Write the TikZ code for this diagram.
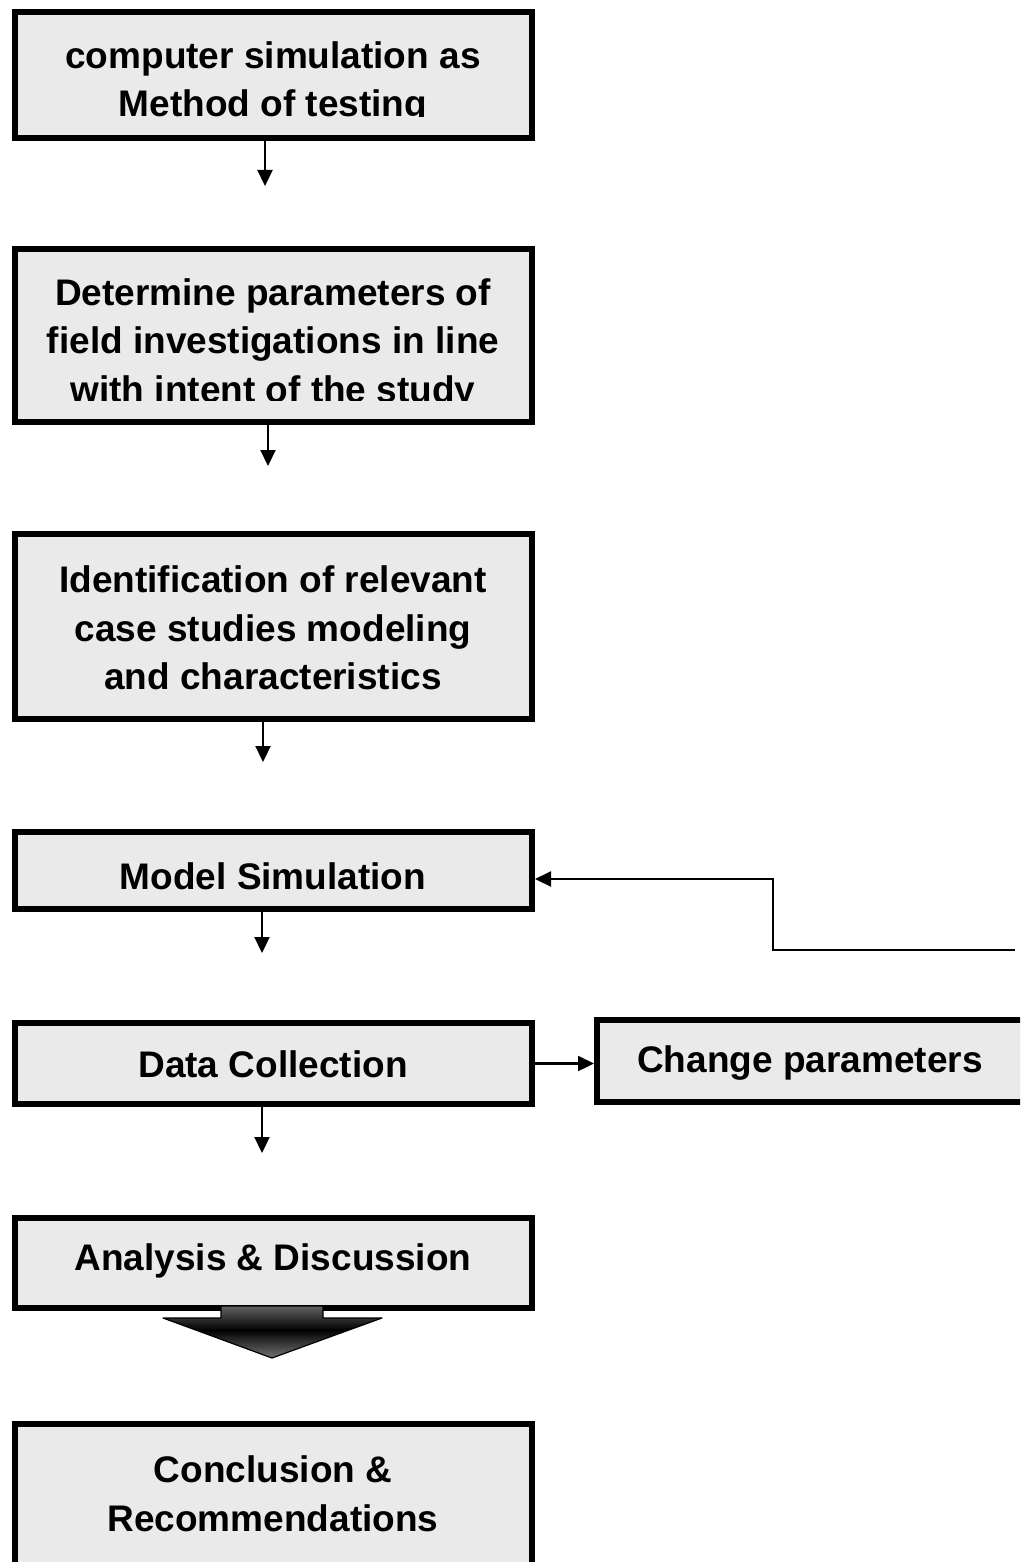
\documentclass[tikz,border=0pt]{standalone}
\usepackage{fontspec}
\setmainfont{Liberation Sans}
\usetikzlibrary{arrows.meta}
\definecolor{boxfill}{HTML}{EAEAEA}
\begin{document}
\begin{tikzpicture}[x=1pt,y=-1pt,
  box/.style={draw=black,line width=6pt,fill=boxfill,rectangle,inner sep=0pt,minimum width=517pt},
  lbl/.style={font=\bfseries\fontsize{37}{48.5}\selectfont,align=center,inner sep=0pt},
  conn/.style={line width=2.2pt,-{Triangle[width=15pt,length=16pt]}},
  cover/.style={fill=boxfill,draw=none}]
\clip (0,0) rectangle (1020,1562);
\fill[white] (0,0) rectangle (1020,1562);
% boxes
\node[box,minimum height=126pt] (b1) at (273.5,75) {};
\node[box,minimum height=173pt] (b2) at (273.5,335.5) {};
\node[box,minimum height=185pt] (b3) at (273.5,626.5) {};
\node[box,minimum height=77pt]  (b4) at (273.5,870.5) {};
\node[box,minimum height=81pt]  (b5) at (273.5,1063.5) {};
\node[box,minimum height=82pt,minimum width=433pt] (b6) at (813.5,1061) {};
\node[box,minimum height=90pt]  (b7) at (273.5,1263) {};
\node[box,minimum height=196pt] (b8) at (273.5,1522) {};
% texts
\node[lbl] (t1) at (273,83) {computer simulation as\\Method of testing};
\node[lbl] (t2) at (273,344) {Determine parameters of\\field investigations in line\\with intent of the study};
\node[lbl] (t3) at (273,628) {Identification of relevant\\case studies modeling\\and characteristics};
\node[lbl] (t4) at (273,876) {Model Simulation};
\node[lbl] (t5) at (273,1064) {Data Collection};
\node[lbl] (t6) at (810,1063) {Change parameters};
\node[lbl] (t7) at (273,1261) {Analysis \& Discussion};
\node[lbl] (t8) at (273,1494) {Conclusion \&\\Recommendations};
% clipped text bottoms as in the original
\path[cover] (18.5,117) rectangle (528.5,134.5);
\path[cover] (18.5,401) rectangle (528.5,418.5);
% vertical connectors
\coordinate (e1) at (265,186);
\coordinate (e2) at (268,466);
\coordinate (e3) at (263,762);
\coordinate (e4) at (262,953);
\coordinate (e5) at (262,1153);
\draw[conn] (b1.south -| e1) -- (e1);
\draw[conn] (b2.south -| e2) -- (e2);
\draw[conn] (b3.south -| e3) -- (e3);
\draw[conn] (b4.south -| e4) -- (e4);
\draw[conn] (b5.south -| e5) -- (e5);
% to change parameters
\draw[conn] (b5.east) -- (b5.east -| b6.west);
% feedback
\coordinate (fb0) at (1015,950);
\coordinate (fb1) at (773,950);
\coordinate (fb2) at (773,879);
\draw[conn] (fb0) -- (fb1) -- (fb2) -- (b4.east |- fb2);
% big block arrow with vertical gradient
\begin{scope}
  \clip (221,1306) -- (323,1306) -- (323,1318) -- (382,1318) -- (272,1358) -- (163,1318) -- (221,1318) -- cycle;
  \foreach \yy in {1304,...,1360}{
    \pgfmathtruncatemacro\pp{100-40*min(abs(\yy-1330)/25,1)}
    \fill[black!\pp] (160,\yy) rectangle (385,\yy+1.3);
  }
\end{scope}
\draw[black,line width=1.2pt,line join=round]
  (221,1306) -- (323,1306) -- (323,1318) -- (382,1318) -- (272,1358) -- (163,1318) -- (221,1318) -- cycle;
\end{tikzpicture}
\end{document}
